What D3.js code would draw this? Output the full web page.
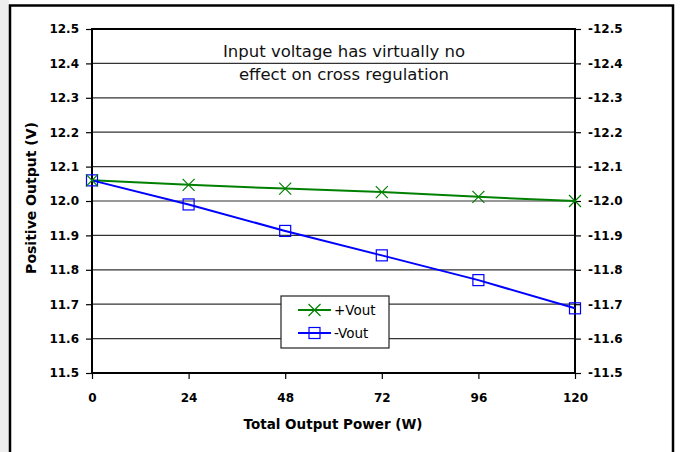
<!DOCTYPE html>
<html>
<head>
<meta charset="utf-8">
<script src="https://cdn.jsdelivr.net/npm/d3@7"></script>
<style>
body { margin:0; background:#fff; }
svg { display:block; }
.tick text { font-family:"DejaVu Sans", sans-serif; font-weight:bold; font-size:12px; fill:#000; }
</style>
</head>
<body>
<svg id="chart"></svg>
<script>
// data
var power = [0, 24, 48, 72, 96, 120]
var posVout = [12.06, 12.047, 12.036, 12.026, 12.012, 12.0]
var negVout = [12.06, 11.99, 11.913, 11.842, 11.77, 11.688]
var xTicks = [0, 24, 48, 72, 96, 120]
var yTicks = [11.5, 11.6, 11.7, 11.8, 11.9, 12.0, 12.1, 12.2, 12.3, 12.4, 12.5]
var yTicksRight = [-11.5, -11.6, -11.7, -11.8, -11.9, -12.0, -12.1, -12.2, -12.3, -12.4, -12.5]
var seriesNames = ["+Vout", "-Vout"]
var note = ["Input voltage has virtually no", "effect on cross regulation"]

var width = 681
var height = 452
var margins = {top:29, bottom:79, left:92, right:106}
var graph = {
    width: width-margins.left-margins.right,
    height: height-margins.top-margins.bottom
}

var svg = d3.select("#chart")
    .attr("width",width)
    .attr("height",height)

// faint grey strip at the far left of the page
svg.append("rect")
    .attr("x",0).attr("y",0)
    .attr("width",9).attr("height",height)
    .attr("fill","#eeeeee")

// outer frame
svg.append("rect")
    .attr("x",10).attr("y",5.5)
    .attr("width",663).attr("height",460)
    .attr("fill","none")
    .attr("stroke","#000")
    .attr("stroke-width",2.5)

var xScale = d3.scaleLinear()
    .domain([0,120])
    .range([margins.left, margins.left+graph.width])

var yScale = d3.scaleLinear()
    .domain([11.5,12.5])
    .range([margins.top+graph.height, margins.top])

var yScaleRight = d3.scaleLinear()
    .domain([-11.5,-12.5])
    .range([margins.top+graph.height, margins.top])

// gridlines
svg.append("g")
    .selectAll("line")
    .data(yTicks.slice(1,-1))
    .enter()
    .append("line")
    .attr("x1",margins.left)
    .attr("x2",margins.left+graph.width)
    .attr("y1",function(d){return yScale(d)})
    .attr("y2",function(d){return yScale(d)})
    .attr("stroke","#333")
    .attr("stroke-width",1.2)

// axes
var fmt = function(d){ return d.toFixed(1).replace("\u2212","-") }

svg.append("g")
    .attr("transform","translate("+margins.left+",0)")
    .call(d3.axisLeft(yScale).tickValues(yTicks).tickFormat(fmt).tickSize(6).tickPadding(7))
    .call(function(g){ g.select(".domain").remove() })

svg.append("g")
    .attr("transform","translate("+(margins.left+graph.width)+",0)")
    .call(d3.axisRight(yScaleRight).tickValues(yTicksRight).tickFormat(fmt).tickSize(6).tickPadding(7))
    .call(function(g){ g.select(".domain").remove() })

svg.append("g")
    .attr("transform","translate(0,"+(margins.top+graph.height)+")")
    .call(d3.axisBottom(xScale).tickValues(xTicks).tickFormat(d3.format("d")).tickSize(6).tickPadding(14))
    .call(function(g){ g.select(".domain").remove() })

svg.selectAll(".tick line").attr("stroke","#000").attr("stroke-width",1.2)

// plot border
svg.append("rect")
    .attr("x",margins.left).attr("y",margins.top)
    .attr("width",graph.width).attr("height",graph.height)
    .attr("fill","none")
    .attr("stroke","#000")
    .attr("stroke-width",2)

// annotation
svg.append("g")
    .selectAll("text")
    .data(note)
    .enter()
    .append("text")
    .attr("x",344)
    .attr("y",function(d,i){return 57+i*23})
    .attr("text-anchor","middle")
    .attr("font-family","DejaVu Sans, sans-serif")
    .attr("font-size","16.5px")
    .attr("fill","#111")
    .text(function(d){return d})

// lines
var line = d3.line()
    .x(function(d){return xScale(d[0])})
    .y(function(d){return yScale(d[1])})

var colors = ["#008000","#0000ff"]
var series = [posVout, negVout]

series.forEach(function(vals,k)
{
    var pts = power.map(function(p,i){return [p, vals[i]]})
    svg.append("path")
        .datum(pts)
        .attr("d",line)
        .attr("fill","none")
        .attr("stroke",colors[k])
        .attr("stroke-width",2)
})

var drawCross = function(g,x,y)
{
    g.append("path")
        .attr("d","M"+(x-6)+","+(y-6)+"L"+(x+6)+","+(y+6)+"M"+(x-6)+","+(y+6)+"L"+(x+6)+","+(y-6))
        .attr("stroke",colors[0])
        .attr("stroke-width",1.2)
        .attr("fill","none")
}
var drawSquare = function(g,x,y)
{
    g.append("rect")
        .attr("x",x-5.5).attr("y",y-5.5)
        .attr("width",11).attr("height",11)
        .attr("stroke",colors[1])
        .attr("stroke-width",1.2)
        .attr("fill","none")
}

var marks = svg.append("g")
power.forEach(function(p,i)
{
    drawSquare(marks, xScale(p), yScale(negVout[i]))
})
power.forEach(function(p,i)
{
    drawCross(marks, xScale(p), yScale(posVout[i]))
})

// legend
var legend = svg.append("g").attr("transform","translate(281,296)")
legend.append("rect")
    .attr("width",108).attr("height",52)
    .attr("fill","#fff")
    .attr("stroke","#222")
    .attr("stroke-width",1.2)

seriesNames.forEach(function(name,k)
{
    var y = 14+k*23
    legend.append("line")
        .attr("x1",17).attr("x2",50)
        .attr("y1",y).attr("y2",y)
        .attr("stroke",colors[k])
        .attr("stroke-width",2)
    if(k==0){ drawCross(legend,33.5,y) } else { drawSquare(legend,33.5,y) }
    legend.append("text")
        .attr("x",53).attr("y",y+5)
        .attr("font-family","DejaVu Sans, sans-serif")
        .attr("font-size","13.5px")
        .text(name)
})

// axis titles
svg.append("text")
    .attr("x",333).attr("y",429)
    .attr("text-anchor","middle")
    .attr("font-family","DejaVu Sans, sans-serif")
    .attr("font-weight","bold")
    .attr("font-size","13.5px")
    .text("Total Output Power (W)")

svg.append("text")
    .attr("transform","translate(36,198) rotate(-90)")
    .attr("text-anchor","middle")
    .attr("font-family","DejaVu Sans, sans-serif")
    .attr("font-weight","bold")
    .attr("font-size","14px")
    .text("Positive Output (V)")
</script>
</body>
</html>
